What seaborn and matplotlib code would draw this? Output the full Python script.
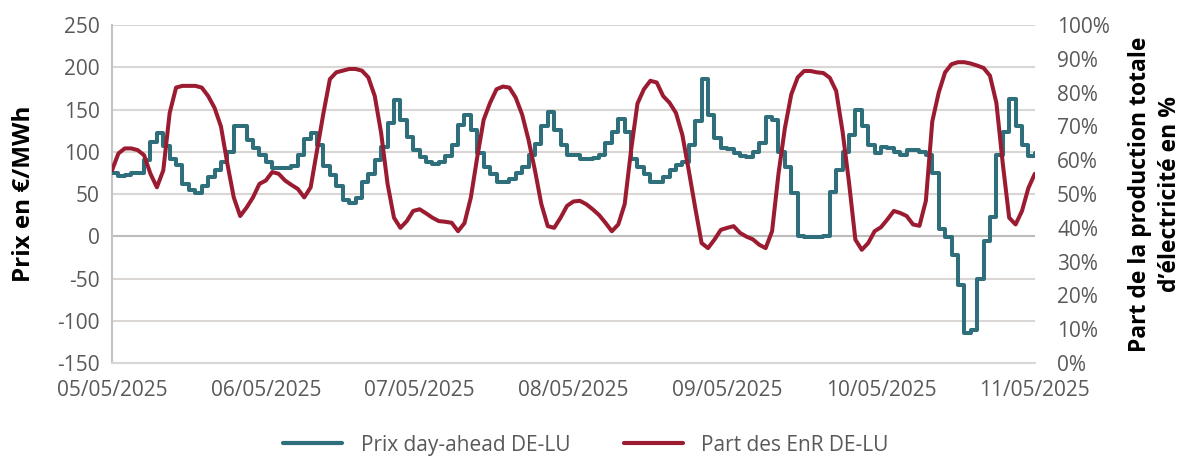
import numpy as np
import pandas as pd
import matplotlib.pyplot as plt
import matplotlib.dates as mdates
from matplotlib.lines import Line2D
import seaborn as sns

# Hourly day-ahead price DE-LU (EUR/MWh), 05/05/2025 00:00 -> 11/05/2025 00:00
prix_j1 = [75, 71, 73, 75, 75, 90, 111, 122, 107, 92, 84, 62, 55, 51, 59, 70, 78, 88, 100, 130, 130, 114, 104, 96]
prix_j2 = [88, 81, 81, 81, 83, 96, 115, 122, 108, 83, 72, 60, 43, 39, 45, 64, 74, 90, 106, 134, 161, 138, 118, 102]
prix_j3 = [94, 88, 85, 88, 95, 108, 132, 144, 126, 98, 82, 74, 64, 64, 68, 75, 82, 96, 109, 130, 147, 126, 108, 96]
prix_j4 = [96, 92, 92, 93, 96, 110, 124, 139, 124, 92, 82, 74, 64, 64, 70, 78, 84, 88, 108, 136, 186, 143, 116, 105]
prix_j5 = [103, 98, 95, 94, 100, 110, 141, 138, 100, 82, 51, 0, -1, -1, -1, 0, 53, 78, 100, 120, 149, 130, 108, 99]
prix_j6 = [106, 104, 100, 96, 102, 102, 100, 96, 75, 9, -1, -22, -58, -115, -111, -50, -5, 23, 96, 124, 163, 130, 108, 95]
prix_fin = [98]

# Hourly share of renewables in DE-LU electricity production (%)
enr_j1 = [57, 62, 63.5, 63.5, 63, 61.5, 56, 52, 57, 74, 81.5, 82, 82, 82, 81.5, 79, 75.5, 70, 59, 49, 43.5, 46, 49, 53]
enr_j2 = [54, 56.5, 56, 54, 52.7, 51.5, 49, 52, 63, 74, 84, 86, 86.5, 87, 87, 86.5, 84.5, 79, 68, 53, 43, 40, 42, 45]
enr_j3 = [45.5, 44.3, 43, 42, 41.8, 41.5, 39, 41.4, 49, 61, 72, 77, 81, 81.8, 81.5, 78.5, 73.5, 66, 57, 47, 40.5, 40, 43, 46.5]
enr_j4 = [47.8, 48, 47, 45.5, 43.8, 41.5, 39, 41, 47, 63, 76.8, 81, 83.5, 83, 79, 77, 74, 67.5, 57, 46, 35.5, 34, 36.5, 39.4]
enr_j5 = [40, 40.5, 38.5, 37.4, 36.6, 35, 34, 39, 56, 69.5, 79.5, 84.5, 86.4, 86.4, 86, 85.8, 84.4, 80.5, 68.5, 53.5, 36.5, 33.5, 35.5, 39]
enr_j6 = [40.2, 42.5, 45, 44.4, 43.5, 41, 40.6, 48, 71.5, 80, 86, 88.4, 89, 89, 88.6, 88, 87.3, 85, 77, 59, 43, 41, 45, 51.8]
enr_fin = [56]

jours = ['05/05/2025', '06/05/2025', '07/05/2025', '08/05/2025', '09/05/2025', '10/05/2025', '11/05/2025']

prix = prix_j1 + prix_j2 + prix_j3 + prix_j4 + prix_j5 + prix_j6 + prix_fin
enr = enr_j1 + enr_j2 + enr_j3 + enr_j4 + enr_j5 + enr_j6 + enr_fin
heures = pd.date_range('2025-05-05', periods=len(prix), freq='h')
df = pd.DataFrame({'heure': heures, 'prix': prix, 'enr': enr})

teal = '#2E6F7B'
rouge = '#9B1B31'
gris_txt = '#595959'
gris_grid = '#DAD6D3'

sns.set_theme(style='white')
plt.rcParams['font.family'] = ['Open Sans', 'DejaVu Sans']
plt.rcParams['axes.unicode_minus'] = False

fig, ax = plt.subplots(figsize=(11.84, 4.59), dpi=100)
fig.subplots_adjust(left=0.0946, right=0.874, top=0.9455, bottom=0.209)
ax2 = ax.twinx()

sns.lineplot(data=df, x='heure', y='prix', ax=ax, color=teal, linewidth=2.9,
             drawstyle='steps-post', legend=False, zorder=3)
sns.lineplot(data=df, x='heure', y='enr', ax=ax2, color=rouge, linewidth=2.9,
             legend=False, zorder=3)

# left axis
ax.set_ylim(-150, 250)
ax.set_yticks(range(-150, 251, 50))
ax.yaxis.grid(True, color=gris_grid, linewidth=1.5)
ax.axhline(0, color='#BDBDBD', linewidth=1.5, zorder=1)
ax.set_axisbelow(True)
ax.set_xlim(pd.Timestamp('2025-05-05'), pd.Timestamp('2025-05-11'))
ax.set_xticks(pd.to_datetime(jours, format='%d/%m/%Y'))
ax.set_xticklabels(jours)
ax.set_xlabel('')
ax.set_ylabel('')
ax.tick_params(axis='both', length=0, labelsize=15, labelcolor=gris_txt)
ax.tick_params(axis='y', pad=9)
ax.tick_params(axis='x', pad=12)
for s in ['top', 'right']:
    ax.spines[s].set_visible(False)
ax.spines['left'].set_color('#C4C4C4')
ax.spines['left'].set_linewidth(1.5)
ax.spines['bottom'].set_color(gris_grid)
ax.spines['bottom'].set_linewidth(1.5)

# right axis
ax2.set_ylim(0, 100)
ax2.set_yticks(range(0, 101, 10))
ax2.set_yticklabels([f'{v}%' for v in range(0, 101, 10)])
ax2.set_ylabel('')
ax2.grid(False)
ax2.tick_params(axis='y', length=0, labelsize=15, labelcolor=gris_txt, pad=16)
for s in ax2.spines.values():
    s.set_visible(False)

fig.text(24 / 1184, 0.577, 'Prix en €/MWh', rotation=90, ha='center', va='center',
         fontsize=17.5, fontweight='bold', color='black')
fig.text(1155 / 1184, 0.577, 'Part de la production totale\nd’électricité en %', rotation=90,
         ha='center', va='center', multialignment='center', fontsize=16.5,
         fontweight='bold', color='black', linespacing=1.3)

handles = [Line2D([], [], color=teal, linewidth=3),
           Line2D([], [], color=rouge, linewidth=3)]
fig.legend(handles, ['Prix day-ahead DE-LU', 'Part des EnR DE-LU'], loc='center',
           bbox_to_anchor=(0.495, 0.03), ncol=2, frameon=False, fontsize=15,
           labelcolor=gris_txt, handlelength=2.8, handletextpad=0.9, columnspacing=2.6)

plt.savefig('out.png', dpi=100)
